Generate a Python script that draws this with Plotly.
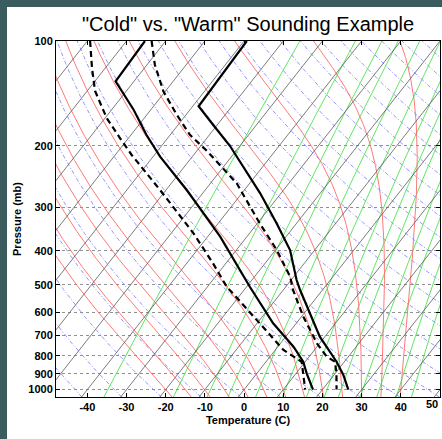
import numpy as np
import plotly.graph_objects as go

# ---------------- data (p in mb, T in deg C) ----------------
cold_t_p = [100, 130.5, 157.4, 185.8, 214.7, 267.6, 364.2, 506.8, 645.3, 753.3, 831.8, 897.9, 1000]
cold_t_T = [-95.3, -94.7, -84.4, -76.1, -68.2, -54.7, -36.8, -19.2, -5.9, 4.0, 9.5, 12.7, 17.6]
cold_d_p = [100, 119.5, 139.1, 166.3, 189.8, 212.3, 267.6, 356.1, 434.2, 506.8, 553.4, 645.3, 769.9, 831.8, 897.9, 1000]
cold_d_T = [-109.3, -103.4, -98.0, -89.6, -82.2, -75.8, -61.5, -44.3, -33.3, -25.1, -19.3, -9.3, 2.1, 9.1, 11.8, 15.6]
warm_t_p = [100, 153.9, 173.9, 200.1, 273.5, 333.4, 397.7, 484.9, 518, 705.1, 831.8, 907.9, 1000]
warm_t_T = [-69.3, -68.5, -61.1, -52.5, -35.3, -25.1, -16.3, -8.6, -5.7, 8.7, 18.0, 22.4, 26.6]
warm_d_p = [100, 117, 139.4, 162.7, 185.8, 206.4, 256, 333.4, 397.7, 474.5, 518, 618, 736.6, 804.6, 831.8, 897.9, 1000]
warm_d_T = [-93.6, -88.0, -80.5, -72.4, -65.0, -57.5, -43.3, -29.4, -19.7, -10.9, -7.5, 0.5, 9.3, 14.5, 17.6, 20.3, 23.6]

p_ticks = [100, 200, 300, 400, 500, 600, 700, 800, 900, 1000]
t_ticks = [-40, -30, -20, -10, 0, 10, 20, 30, 40]

isotherm_vals = list(range(-150, 60, 10))          # deg C
dry_theta_vals = list(range(220, 520, 10))          # K
moist_start_vals = list(range(-20, 45, 5))          # deg C at 1000 mb
mixing_vals = [0.2, 1, 2, 3, 5, 8, 12, 16, 20, 28, 36, 48, 60]  # g/kg

SKEW = 70.0
P_TOP, P_BOT = 100.0, 1050.0


def skx(T, p):
    return np.asarray(T, float) + SKEW * np.log10(1000.0 / np.asarray(p, float))


pgrid = np.logspace(np.log10(P_BOT), np.log10(P_TOP), 160)


def join(lines):
    xs, ys = [], []
    for x, y in lines:
        xs += list(x) + [None]
        ys += list(y) + [None]
    return xs, ys


iso = [(skx([t, t], [P_BOT, P_TOP]), [P_BOT, P_TOP]) for t in isotherm_vals]
dry = []
for th in dry_theta_vals:
    T = th * (pgrid / 1000.0) ** 0.2857 - 273.15
    dry.append((skx(T, pgrid), pgrid))


def es(Tk):
    tc = Tk - 273.15
    return 6.112 * np.exp(17.67 * tc / (tc + 243.5))


def dTdlnp(Tk, p):
    Rd, cp, Lv, eps = 287.04, 1005.7, 2.501e6, 0.622
    e = es(Tk)
    rs = eps * e / max(p - e, 1e-3)
    return (Rd * Tk + Lv * rs) / (cp + Lv * Lv * rs * eps / (Rd * Tk * Tk))


def moist_line(T0c):
    out = {}
    for target in (P_BOT, P_TOP):
        Tk = T0c + 273.15
        lnp = np.log(1000.0)
        n = 300
        h = (np.log(target) - lnp) / n
        pts = [(1000.0, Tk)]
        for i in range(n):
            p = np.exp(lnp)
            k1 = dTdlnp(Tk, p)
            k2 = dTdlnp(Tk + 0.5 * h * k1, np.exp(lnp + 0.5 * h))
            k3 = dTdlnp(Tk + 0.5 * h * k2, np.exp(lnp + 0.5 * h))
            k4 = dTdlnp(Tk + h * k3, np.exp(lnp + h))
            Tk += h / 6 * (k1 + 2 * k2 + 2 * k3 + k4)
            lnp += h
            pts.append((np.exp(lnp), Tk))
        out[target] = pts
    pts = out[P_BOT][::-1] + out[P_TOP][1:]
    p = np.array([a for a, b in pts])
    T = np.array([b for a, b in pts]) - 273.15
    return skx(T, p), p


moist = [moist_line(t0) for t0 in moist_start_vals]

mix = []
for w in mixing_vals:
    wk = w / 1000.0
    e = wk * pgrid / (0.622 + wk)
    lg = np.log(e / 6.112)
    Td = 243.5 * lg / (17.67 - lg)
    mix.append((skx(Td, pgrid), pgrid))

fig = go.Figure()


def add_family(lines, color, width, dash):
    x, y = join(lines)
    fig.add_trace(go.Scatter(x=x, y=y, mode="lines", hoverinfo="skip",
                             line=dict(color=color, width=width, dash=dash), showlegend=False))


add_family(dry, "#7a7aff", 0.8, "4px,2px,1px,2px")
add_family(mix, "#4fe34f", 0.9, "solid")
add_family(moist, "#ff6a6a", 0.9, "solid")
add_family(iso, "#5a5a5a", 0.8, "solid")

for p, T, dash in [(cold_t_p, cold_t_T, "solid"), (cold_d_p, cold_d_T, "6px,4px"),
                   (warm_t_p, warm_t_T, "solid"), (warm_d_p, warm_d_T, "6px,4px")]:
    fig.add_trace(go.Scatter(x=skx(T, p), y=p, mode="lines", showlegend=False,
                             line=dict(color="black", width=2.2, dash=dash)))

# figure / panel geometry (pixels)
W, H = 442, 439
FRAME = 7                      # dark frame on the left and top
PX0, PX1, PY0, PY1 = 56, 440, 41, 397   # plot area
pw, ph = W - FRAME, H - FRAME
DARK = "#3a5c5e"

# white panel = the whole margin-free paper area
fig.add_shape(type="rect", xref="paper", yref="paper", layer="below",
              x0=0, x1=1, y0=0, y1=1, fillcolor="white", line=dict(width=0))

font = "Arial, Liberation Sans, sans-serif"
fig.add_annotation(text="50", xref="paper", yref="paper", x=(439 - FRAME) / pw, xanchor="right",
                   y=(H - 404) / ph, yanchor="middle", showarrow=False, borderpad=0,
                   font=dict(family=font, size=11, weight="bold", color="black"))

fig.update_layout(
    width=W, height=H, margin=dict(l=FRAME, r=0, t=FRAME, b=0, pad=0),
    paper_bgcolor=DARK, plot_bgcolor="white",
    title=dict(text='"Cold" vs. "Warm" Sounding Example', x=(248 - FRAME) / pw, xref="paper",
               y=1 - 24 / H, yref="container", yanchor="middle", xanchor="center",
               font=dict(family=font, size=20, color="black")),
    font=dict(family=font, color="black"),
)
fig.update_xaxes(domain=[(PX0 - FRAME) / pw, (PX1 - FRAME) / pw],
                 range=[-48, 50], tickvals=t_ticks + [50], ticktext=[str(t) for t in t_ticks] + [""],
                 ticks="inside", ticklen=4, tickcolor="black", showline=True, linecolor="black",
                 mirror="ticks", showgrid=False, zeroline=False,
                 tickfont=dict(family=font, size=11, weight="bold"),
                 title=dict(text="Temperature (C)", font=dict(family=font, size=11, weight="bold"), standoff=4))
fig.update_yaxes(domain=[(H - PY1) / ph, (H - PY0) / ph],
                 type="log", range=[np.log10(P_BOT), np.log10(P_TOP)], tickvals=p_ticks,
                 ticktext=[str(p) for p in p_ticks], ticks="inside", ticklen=4, tickcolor="black",
                 showline=True, linecolor="black", mirror="ticks", showgrid=True,
                 gridcolor="#909090", griddash="dot", gridwidth=1, zeroline=False,
                 tickfont=dict(family=font, size=11, weight="bold"),
                 title=dict(text="Pressure (mb)", font=dict(family=font, size=11, weight="bold"), standoff=4))

fig.write_html("out.html")
